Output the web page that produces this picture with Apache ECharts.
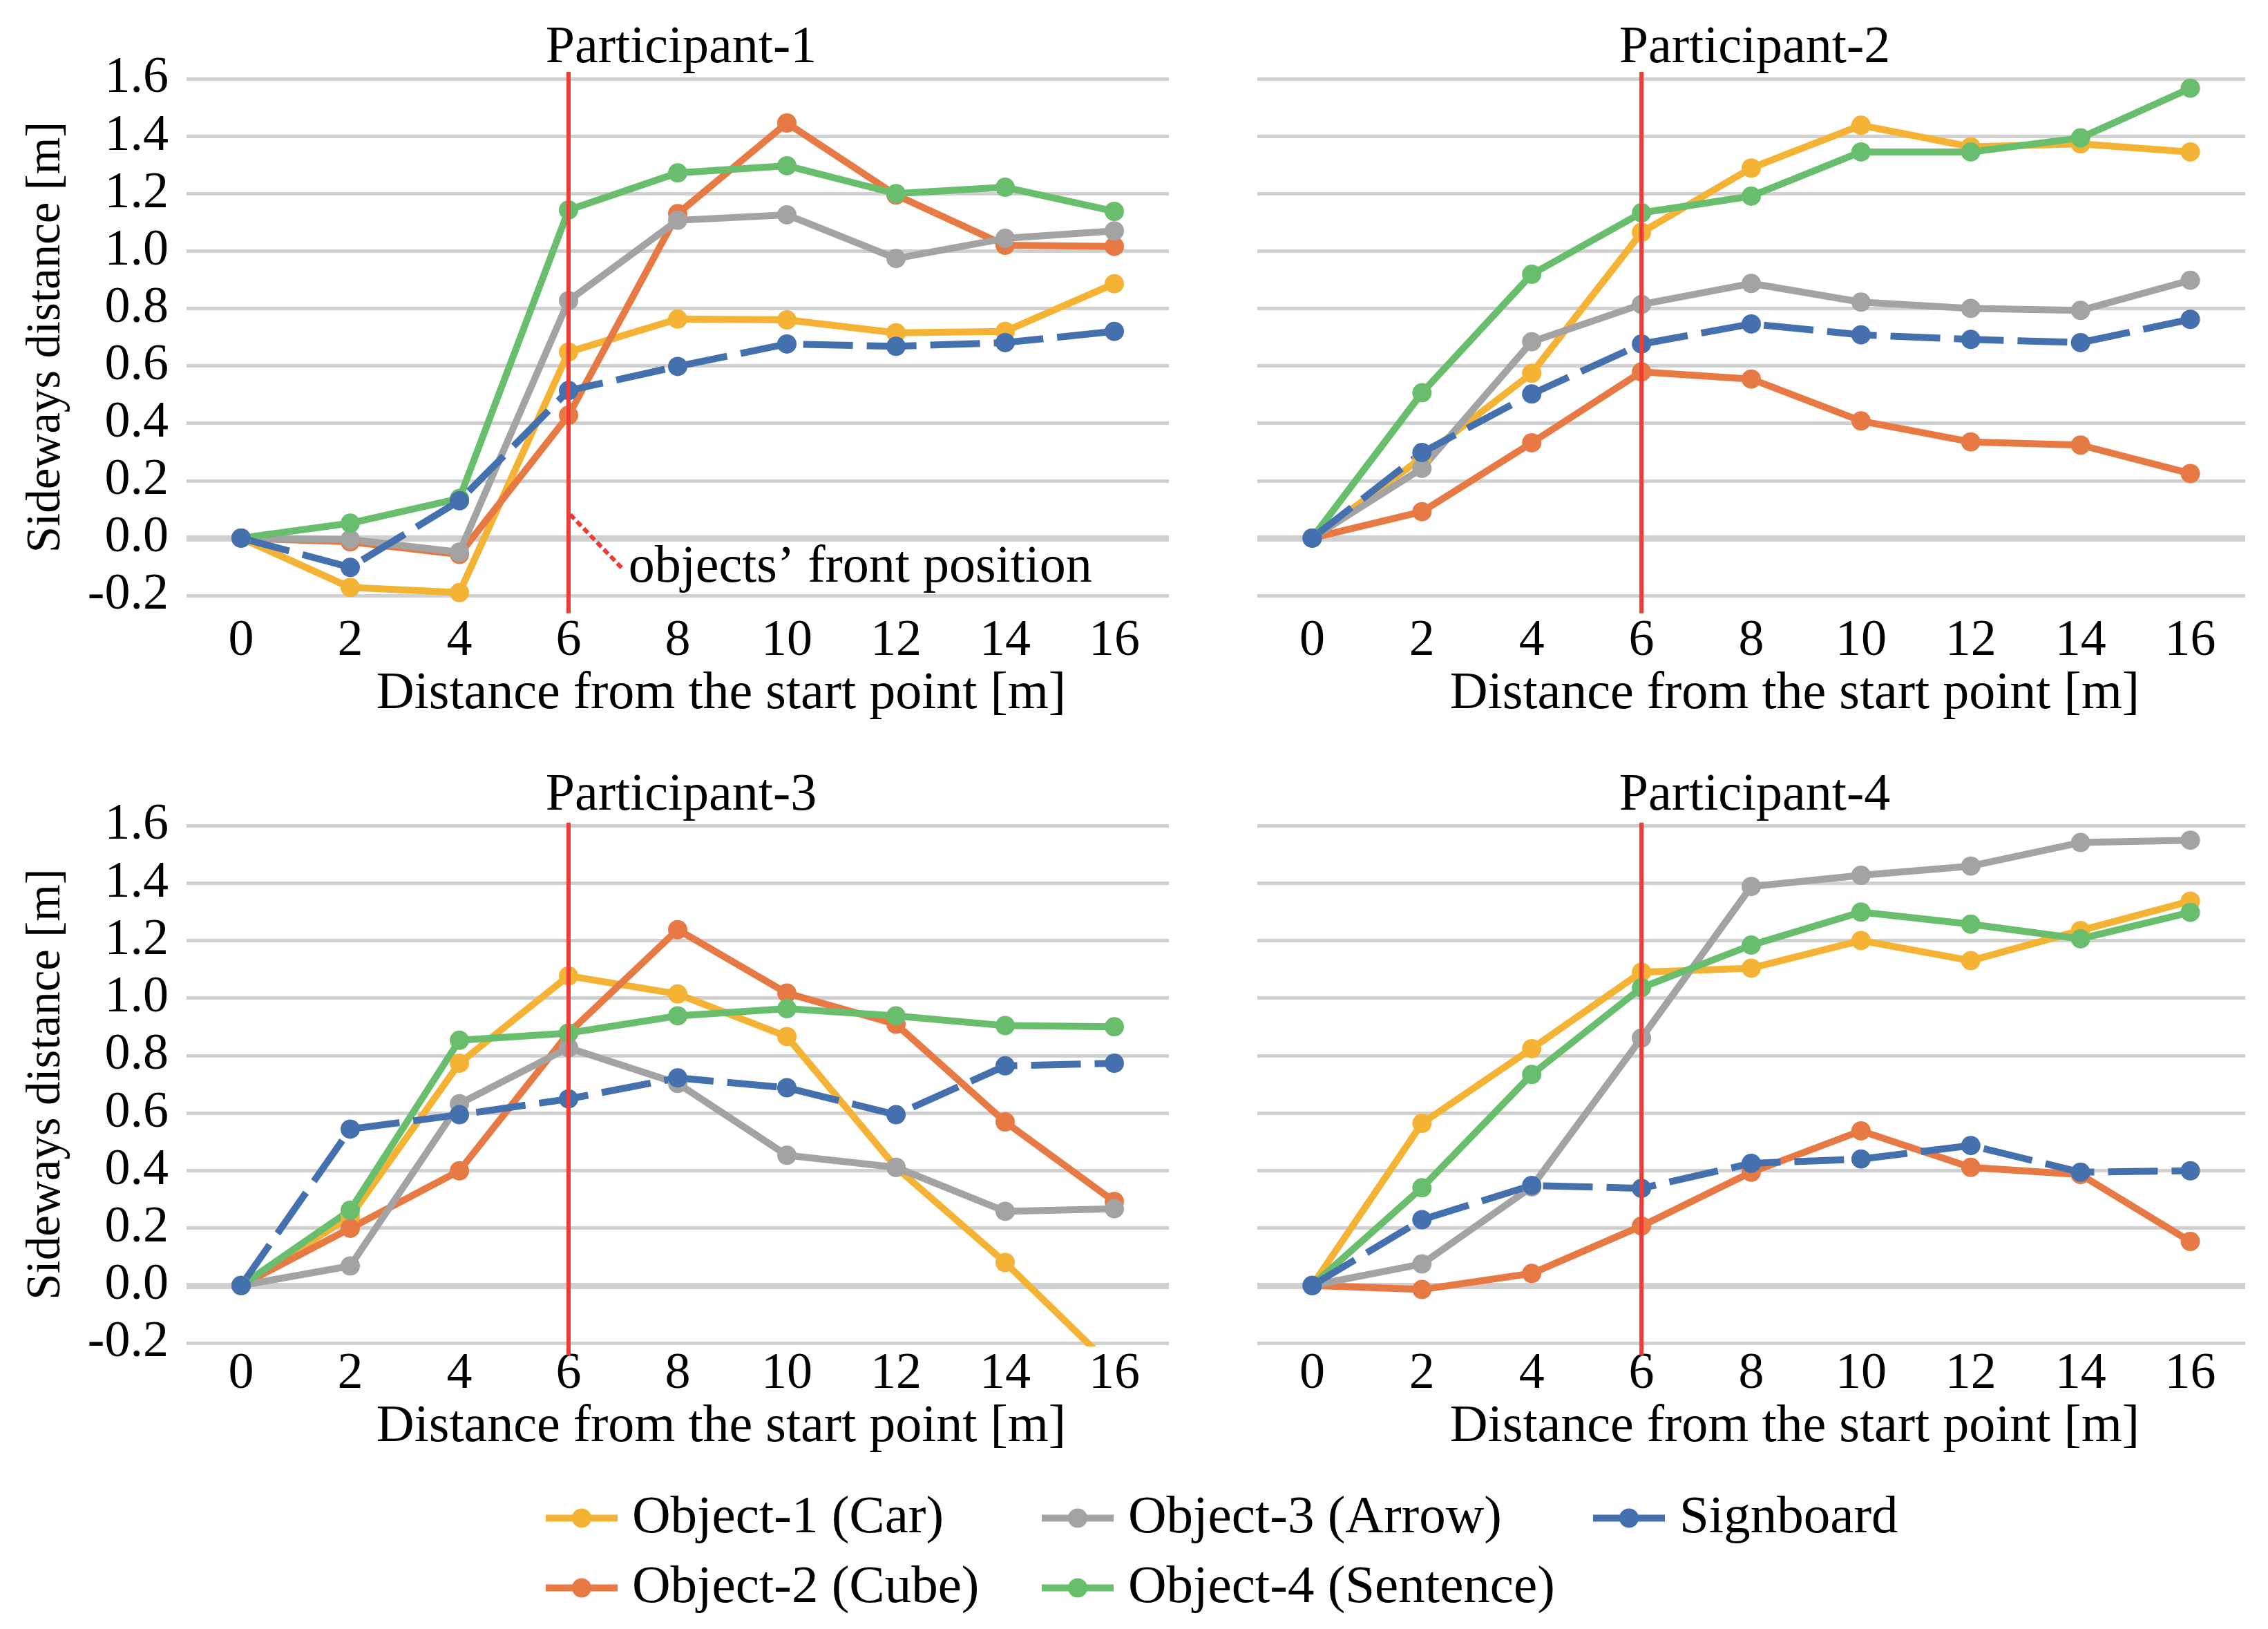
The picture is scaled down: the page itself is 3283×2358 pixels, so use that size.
<!DOCTYPE html>
<html><head><meta charset="utf-8">
<script src="https://cdn.jsdelivr.net/npm/echarts@6/dist/echarts.min.js"></script>
<style>html,body{margin:0;padding:0;background:#fff}#c{width:3283px;height:2358px}</style>
</head><body><div id="c"></div>
<script>
// ---------- data ----------
const categories = ['0','2','4','6','8','10','12','14','16'];
const seriesNames = ['Object-1 (Car)','Object-2 (Cube)','Object-3 (Arrow)','Object-4 (Sentence)','Signboard'];
const panelTitles = ['Participant-1','Participant-2','Participant-3','Participant-4'];
const yMin = -0.2, yMax = 1.6, yStep = 0.2;

const p1Car      = [0, -0.172, -0.19, 0.648, 0.763, 0.76, 0.715, 0.72, 0.886];
const p1Cube     = [0, -0.013, -0.057, 0.428, 1.13, 1.446, 1.195, 1.02, 1.016];
const p1Arrow    = [0, -0.005, -0.049, 0.827, 1.107, 1.126, 0.974, 1.044, 1.07];
const p1Sentence = [0, 0.052, 0.138, 1.143, 1.272, 1.297, 1.2, 1.222, 1.138];
const p1Sign     = [0, -0.102, 0.13, 0.514, 0.598, 0.676, 0.668, 0.681, 0.72];

const p2Car      = [0, 0.28, 0.574, 1.065, 1.289, 1.438, 1.363, 1.373, 1.345];
const p2Cube     = [0, 0.092, 0.332, 0.579, 0.554, 0.408, 0.335, 0.324, 0.225];
const p2Arrow    = [0, 0.243, 0.684, 0.814, 0.887, 0.822, 0.8, 0.793, 0.898];
const p2Sentence = [0, 0.506, 0.919, 1.133, 1.191, 1.345, 1.345, 1.394, 1.567];
const p2Sign     = [0, 0.298, 0.502, 0.676, 0.746, 0.708, 0.692, 0.681, 0.762];

const p3Car      = [0, 0.24, 0.773, 1.077, 1.014, 0.866, 0.411, 0.08, -0.29];
const p3Cube     = [0, 0.199, 0.399, 0.878, 1.238, 1.017, 0.909, 0.569, 0.292];
const p3Arrow    = [0, 0.068, 0.632, 0.827, 0.703, 0.453, 0.411, 0.258, 0.267];
const p3Sentence = [0, 0.262, 0.853, 0.878, 0.938, 0.963, 0.938, 0.904, 0.9];
const p3Sign     = [0, 0.544, 0.594, 0.649, 0.722, 0.688, 0.594, 0.764, 0.773];

const p4Car      = [0, 0.564, 0.824, 1.09, 1.104, 1.2, 1.13, 1.235, 1.337];
const p4Cube     = [0, -0.014, 0.042, 0.207, 0.394, 0.538, 0.411, 0.386, 0.153];
const p4Arrow    = [0, 0.075, 0.343, 0.861, 1.388, 1.427, 1.459, 1.541, 1.549];
const p4Sentence = [0, 0.34, 0.734, 1.036, 1.184, 1.299, 1.257, 1.206, 1.298];
const p4Sign     = [0, 0.229, 0.348, 0.338, 0.425, 0.44, 0.487, 0.394, 0.399];

// objects' front position (vertical red line) and its annotation
const frontX = 6;
const frontLineTop    = [1.624, 1.624, 1.61, 1.61];
const frontLineBottom = [-0.262, -0.262, -0.243, -0.243];
const annotLineX = [6.03, 6.97];
const annotLineY = [0.082, -0.103];
const annotText = 'objects\u2019 front position';

// ---------- styling ----------
const FONT = 'Liberation Serif';
const colors = ['#F5B335', '#E77A44', '#A3A3A3', '#69BE6E', '#4470AE'];
const gridColor = '#D0D0D0';
const redColor = '#EE3B36';

const participants = [
  [p1Car, p1Cube, p1Arrow, p1Sentence, p1Sign],
  [p2Car, p2Cube, p2Arrow, p2Sentence, p2Sign],
  [p3Car, p3Cube, p3Arrow, p3Sentence, p3Sign],
  [p4Car, p4Cube, p4Arrow, p4Sentence, p4Sign]
];

const gridBoxes = [
  {left: 270,  top: 114,  width: 1422, height: 748},
  {left: 1820, top: 114,  width: 1430, height: 748},
  {left: 270,  top: 1195, width: 1422, height: 749},
  {left: 1820, top: 1195, width: 1430, height: 749}
];
const labelMargin = [30, 30, 9, 9];
const xNameGap = [101, 101, 76, 76];
const titleTop = [27, 27, 1109, 1109];

const grids = [], xAxes = [], yAxes = [], titles = [], series = [];

gridBoxes.forEach((b, g) => {
  grids.push({left: b.left, top: b.top, width: b.width, height: b.height, containLabel: false});
  titles.push({
    text: panelTitles[g], left: b.left + b.width / 2, top: titleTop[g], textAlign: 'center',
    textStyle: {fontFamily: FONT, fontSize: 76, fontWeight: 'normal', color: '#000'}
  });
  xAxes.push({
    type: 'category', gridIndex: g, data: categories, boundaryGap: true,
    axisLine: {show: false}, axisTick: {show: false}, splitLine: {show: false},
    axisLabel: {fontFamily: FONT, fontSize: 74, color: '#000', margin: labelMargin[g], interval: 0},
    name: 'Distance from the start point [m]', nameLocation: 'middle', nameGap: xNameGap[g],
    nameTextStyle: {fontFamily: FONT, fontSize: 76, color: '#000', padding: [0, 0, 0, 126]}
  });
  const left = (g % 2 === 0);
  yAxes.push({
    type: 'value', gridIndex: g, min: yMin, max: yMax, interval: yStep,
    axisLine: {show: false}, axisTick: {show: false},
    splitLine: {show: true, lineStyle: {color: gridColor, width: 5}},
    axisLabel: {show: left, fontFamily: FONT, fontSize: 74, color: '#000', margin: 26,
      formatter: v => v.toFixed(1)},
    name: left ? 'Sideways distance [m]' : '', nameLocation: 'middle', nameGap: 168,
    nameTextStyle: {fontFamily: FONT, fontSize: 69, color: '#000'}
  });
});
// hidden value x-axes for annotation marks (same span as category axes)
gridBoxes.forEach((b, g) => {
  xAxes.push({type: 'value', gridIndex: g, min: -1, max: 17, show: false, splitLine: {show: false}});
});

participants.forEach((sets, g) => {
  sets.forEach((vals, k) => {
    const s = {
      type: 'line', name: seriesNames[k], xAxisIndex: g, yAxisIndex: g, data: vals,
      symbol: 'circle', symbolSize: 28, showSymbol: true,
      lineStyle: {color: colors[k], width: 10, type: k === 4 ? [72, 20] : 'solid'},
      itemStyle: {color: colors[k], borderWidth: 0},
      emphasis: {disabled: true}, silent: true, z: 2
    };
    if (k === 0) {
      s.markLine = {
        silent: true, symbol: 'none', z: 1, label: {show: false}, animation: false,
        lineStyle: {color: gridColor, width: 9, type: 'solid'},
        data: [{yAxis: 0}]
      };
    }
    series.push(s);
  });
  // front position line
  series.push({
    type: 'line', xAxisIndex: 4 + g, yAxisIndex: g, clip: false, silent: true,
    data: [[frontX, frontLineTop[g]], [frontX, frontLineBottom[g]]],
    symbol: 'none', lineStyle: {color: redColor, width: 6}, z: 10
  });
});

// annotation in panel 1
series.push({
  type: 'line', xAxisIndex: 4, yAxisIndex: 0, silent: true, clip: false,
  data: annotLineX.map((x, i) => [x, annotLineY[i]]),
  symbol: 'none', lineStyle: {color: redColor, width: 6, type: [9, 5]}, z: 10
});
series.push({
  type: 'scatter', xAxisIndex: 4, yAxisIndex: 0, silent: true,
  data: [[annotLineX[1], annotLineY[1]]], symbolSize: 0,
  itemStyle: {opacity: 1},
  label: {show: true, position: 'right', distance: 10, formatter: annotText,
    fontFamily: FONT, fontSize: 76, color: '#000', opacity: 1}, z: 10
});

const legendText = {fontFamily: FONT, fontSize: 77, color: '#000', padding: [0, 0, 0, 16]};
const legendBase = {orient: 'vertical', itemWidth: 104, itemHeight: 35, itemGap: 24,
  selectedMode: false, textStyle: legendText, top: 2154,
  lineStyle: {width: 10}};
const legends = [
  Object.assign({}, legendBase, {left: 780, data: [seriesNames[0], seriesNames[1]]}),
  Object.assign({}, legendBase, {left: 1498, data: [seriesNames[2], seriesNames[3]]}),
  Object.assign({}, legendBase, {left: 2296, data: [{name: seriesNames[4], lineStyle: {type: 'solid', width: 10}}]})
];

const chart = echarts.init(document.getElementById('c'), null, {renderer: 'canvas'});
chart.setOption({
  backgroundColor: '#fff', animation: false,
  title: titles, grid: grids, xAxis: xAxes, yAxis: yAxes, legend: legends, series: series
});
</script></body></html>
